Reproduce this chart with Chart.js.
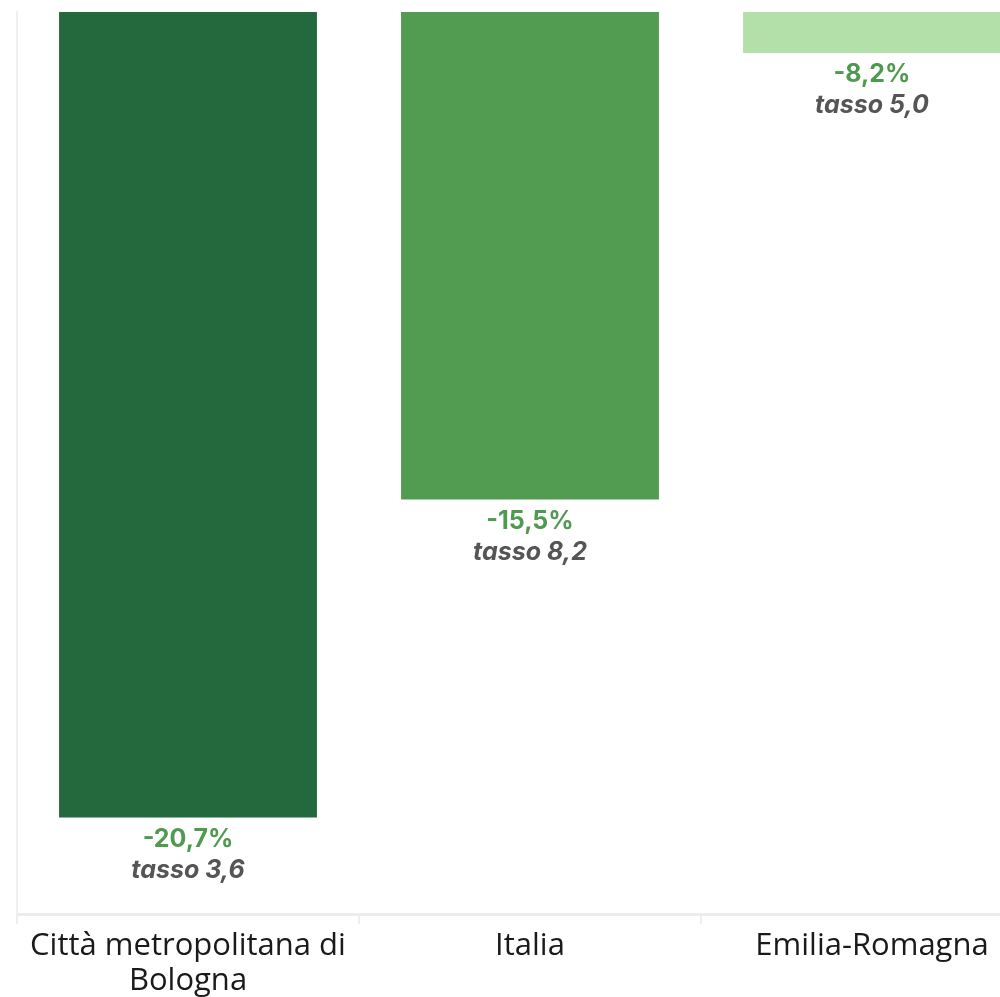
<!DOCTYPE html>
<html lang="it">
<head>
<meta charset="utf-8">
<title>Variazione e tasso</title>
<script src="https://cdn.jsdelivr.net/npm/chart.js@4/dist/chart.umd.min.js"></script>
<style>
  html, body { margin: 0; padding: 0; background: #ffffff; overflow: hidden; }
  #wrap { width: 1043px; height: 997px; }
</style>
</head>
<body>
<div id="wrap"><canvas id="chart" width="1043" height="997"></canvas></div>
<script>
// Territori a confronto
const categories = [['Città metropolitana di', 'Bologna'], 'Italia', 'Emilia-Romagna'];
// Variazione percentuale
const variazione = [-20.7, -15.5, -8.2];
// Tasso
const tasso = [3.6, 8.2, 5.0];
const barColors = ['#24693d', '#529c52', '#b3dfa9'];

// Value axis range
const Y_MAX = -7.53;
const Y_MIN = -22.28;

const fmt = (v, d) => v.toFixed(d).replace('.', ',');

const barLabels = {
  id: 'barLabels',
  afterDatasetsDraw(chart) {
    const ctx = chart.ctx;
    const meta = chart.getDatasetMeta(0);
    ctx.save();
    ctx.textAlign = 'center';
    ctx.textBaseline = 'middle';
    meta.data.forEach((bar, i) => {
      const y = bar.y;
      ctx.fillStyle = '#4f9a4f';
      ctx.font = '700 25px Inter, "Noto Sans", sans-serif';
      ctx.fillText(fmt(variazione[i], 1) + '%', bar.x, y + 22);
      ctx.fillStyle = '#555555';
      ctx.font = 'italic 700 25px Inter, "Noto Sans", sans-serif';
      ctx.fillText('tasso ' + fmt(tasso[i], 1), bar.x, y + 53);
    });
    ctx.restore();
  }
};

new Chart(document.getElementById('chart'), {
  type: 'bar',
  data: {
    labels: categories,
    datasets: [{
      data: variazione,
      base: Y_MAX,
      backgroundColor: barColors,
      borderWidth: 0,
      barPercentage: 0.754,
      categoryPercentage: 1.0
    }]
  },
  options: {
    responsive: false,
    animation: false,
    events: [],
    layout: { padding: { top: 12, right: 0, left: 0, bottom: 0 } },
    plugins: {
      legend: { display: false },
      tooltip: { enabled: false },
      title: { display: false }
    },
    scales: {
      x: {
        offset: true,
        grid: {
          display: true,
          drawOnChartArea: false,
          drawTicks: true,
          tickLength: 10,
          color: '#eeeeee',
          lineWidth: 2,
          offset: true
        },
        border: { display: true, color: '#ececec', width: 3 },
        ticks: {
          color: '#1a1a1a',
          font: { family: '"Open Sans", "Noto Sans", sans-serif', size: 31, weight: '400', lineHeight: 1.13 },
          padding: 5,
          maxRotation: 0,
          autoSkip: false
        },
        afterFit(scale) { scale.height = 83; }
      },
      y: {
        min: Y_MIN,
        max: Y_MAX,
        ticks: { display: false },
        grid: { display: false },
        border: { display: true, color: '#f0f0f0', width: 2 },
        afterFit(scale) { scale.width = 17; }
      }
    }
  },
  plugins: [barLabels]
});
</script>
</body>
</html>
